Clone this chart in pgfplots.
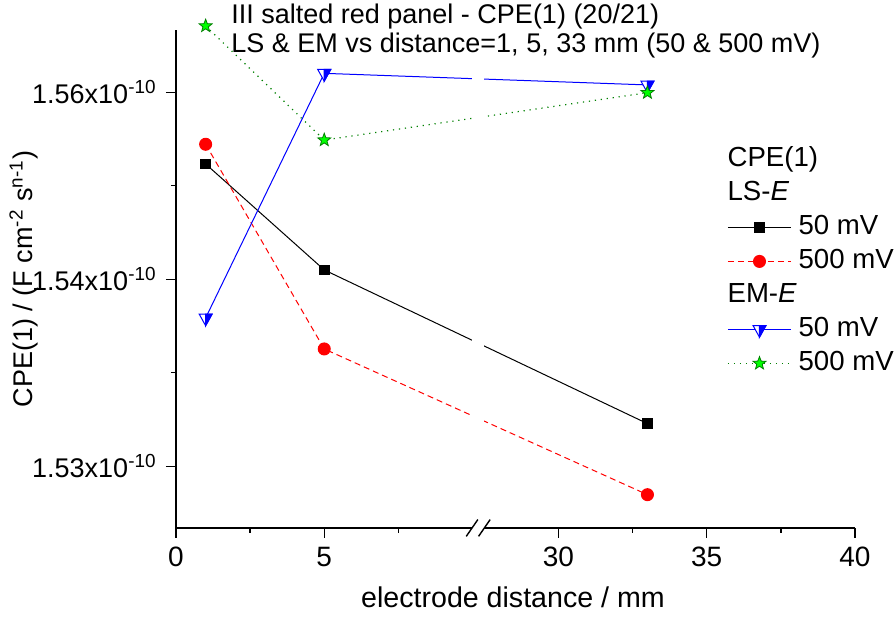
\documentclass[border=0pt]{standalone}
\usepackage{fontspec}
\setmainfont{Liberation Sans}
\usepackage{pgfplots}
\pgfplotsset{compat=1.18}
\usetikzlibrary{plotmarks}

\pgfdeclareplotmark{halftri}{%
  \pgfpathmoveto{\pgfqpoint{-\pgfplotmarksize}{0.6\pgfplotmarksize}}%
  \pgfpathlineto{\pgfqpoint{\pgfplotmarksize}{0.6\pgfplotmarksize}}%
  \pgfpathlineto{\pgfqpoint{0pt}{-1.2\pgfplotmarksize}}%
  \pgfpathclose
  \pgfsetfillcolor{white}\pgfusepathqfillstroke
  \pgfpathmoveto{\pgfqpoint{0pt}{0.6\pgfplotmarksize}}%
  \pgfpathlineto{\pgfqpoint{\pgfplotmarksize}{0.6\pgfplotmarksize}}%
  \pgfpathlineto{\pgfqpoint{0pt}{-1.2\pgfplotmarksize}}%
  \pgfpathclose
  \pgfsetfillcolor{blue}\pgfusepathqfillstroke
}
\pgfdeclareplotmark{fstar}{%
  \pgfpathmoveto{\pgfqpointpolar{90}{\pgfplotmarksize}}%
  \pgfpathlineto{\pgfqpointpolar{126}{0.42\pgfplotmarksize}}%
  \pgfpathlineto{\pgfqpointpolar{162}{\pgfplotmarksize}}%
  \pgfpathlineto{\pgfqpointpolar{198}{0.42\pgfplotmarksize}}%
  \pgfpathlineto{\pgfqpointpolar{234}{\pgfplotmarksize}}%
  \pgfpathlineto{\pgfqpointpolar{270}{0.42\pgfplotmarksize}}%
  \pgfpathlineto{\pgfqpointpolar{306}{\pgfplotmarksize}}%
  \pgfpathlineto{\pgfqpointpolar{342}{0.42\pgfplotmarksize}}%
  \pgfpathlineto{\pgfqpointpolar{18}{\pgfplotmarksize}}%
  \pgfpathlineto{\pgfqpointpolar{54}{0.42\pgfplotmarksize}}%
  \pgfpathclose
  \pgfusepathqfillstroke
}

\begin{document}
\fontsize{13.5}{16}\selectfont
\begin{tikzpicture}
\begin{axis}[
  scale only axis, width=339.5pt, height=249pt,
  xmin=0, xmax=40, ymin=1.52505, ymax=1.5650,
  x coord trafo/.code={\pgfmathparse{#1>20?#1-17.1:#1}},
  x coord inv trafo/.code={\pgfmathparse{#1>10.5?#1+17.1:#1}},
  axis x line*=bottom, axis y line*=left,
  axis line style={line width=0.7pt},
  tick align=outside,
  major tick length=5pt, minor tick length=2.5pt,
  tick style={black, line width=0.7pt},
  xtick={0,5,30,35,40}, xticklabels={0,5,30,35,40},
  xticklabel style={font=\fontsize{14}{16}\selectfont},
  minor xtick={2.5,7.5,32.5,37.5},
  ytick={1.53,1.545,1.56},
  yticklabels={1.53x10\textsuperscript{-10},1.54x10\textsuperscript{-10},1.56x10\textsuperscript{-10}},
  minor ytick={1.5375,1.5525},
  clip=false,
  xlabel={electrode distance / mm},
  ylabel={CPE(1) / (F cm\textsuperscript{-2} s\textsuperscript{n-1})},
  xlabel style={at={(axis description cs:0.4963,-0.1606)}, anchor=base, font=\fontsize{14.3}{17}\selectfont},
  ylabel style={at={(axis description cs:-0.2239,0.5)}, anchor=center},
  legend image code/.code={\draw[mark repeat=2,mark phase=2,#1] plot coordinates {(0pt,0pt)(15.75pt,0pt)(31.5pt,0pt)};},
  legend style={at={(axis description cs:0.8115,0.771)}, anchor=north west, draw=none, fill=none,
    inner sep=0pt, row sep=2pt, column sep=2.5pt, font=\fontsize{13.8}{16}\selectfont,
    nodes={inner sep=1pt, text height=10pt, text depth=3pt}, cells={anchor=west}},
  after end axis/.code={
    \fill[white] ([yshift=-1.5pt]axis cs:9.985,1.52505) rectangle (axis cs:10.40,1.5650);
    \draw[line width=0.7pt] ([xshift=-2.9pt,yshift=-4.2pt]axis cs:9.985,1.52505) -- ([xshift=2.9pt,yshift=4.2pt]axis cs:9.985,1.52505);
    \draw[line width=0.7pt] ([xshift=-2.9pt,yshift=-4.2pt]axis cs:10.40,1.52505) -- ([xshift=2.9pt,yshift=4.2pt]axis cs:10.40,1.52505);
    \node[anchor=base west, inner sep=0pt] at (axis description cs:0.081,1.012) {III salted red panel - CPE(1) (20/21)};
    \node[anchor=base west, inner sep=0pt] at (axis description cs:0.081,0.9548) {LS \& EM vs distance=1, 5, 33 mm (50 \& 500 mV)};
    \path (axis description cs:-0.2592,-0.1707) rectangle (axis description cs:1.0604,1.0602);
  },
]
\addlegendimage{empty legend}\addlegendentry{\makebox[0pt][l]{\hspace{-35.5pt}CPE(1)}}
\addlegendimage{empty legend}\addlegendentry{\makebox[0pt][l]{\hspace{-35.5pt}LS-\textit{E}}}
\addplot[black, line width=0.5pt, mark=square*, mark size=2.4pt, mark options={solid}]
  coordinates {(1,1.55425) (5,1.54575) (33,1.53342)};
\addlegendentry{50 mV}
\addplot[red, line width=0.5pt, dash pattern=on 3pt off 2pt, mark=*, mark size=3pt, mark options={solid}]
  coordinates {(1,1.55583) (5,1.53941) (33,1.52772)};
\addlegendentry{500 mV}
\addlegendimage{empty legend}\addlegendentry{\makebox[0pt][l]{\hspace{-35.5pt}EM-\textit{E}}}
\addplot[blue, line width=0.5pt, mark=halftri, mark size=3.25pt, mark options={solid}]
  coordinates {(1,1.54190) (5,1.56152) (33,1.56059)};
\addlegendentry{50 mV}
\addplot[green!50!black, line width=0.6pt, dash pattern=on 0.6pt off 2.4pt, mark=fstar, mark size=3.4pt, mark options={solid, fill=green, draw=green!50!black, line width=0.4pt}]
  coordinates {(1,1.56532) (5,1.55617) (33,1.55997)};
\addlegendentry{500 mV}
\end{axis}
\end{tikzpicture}
\end{document}
